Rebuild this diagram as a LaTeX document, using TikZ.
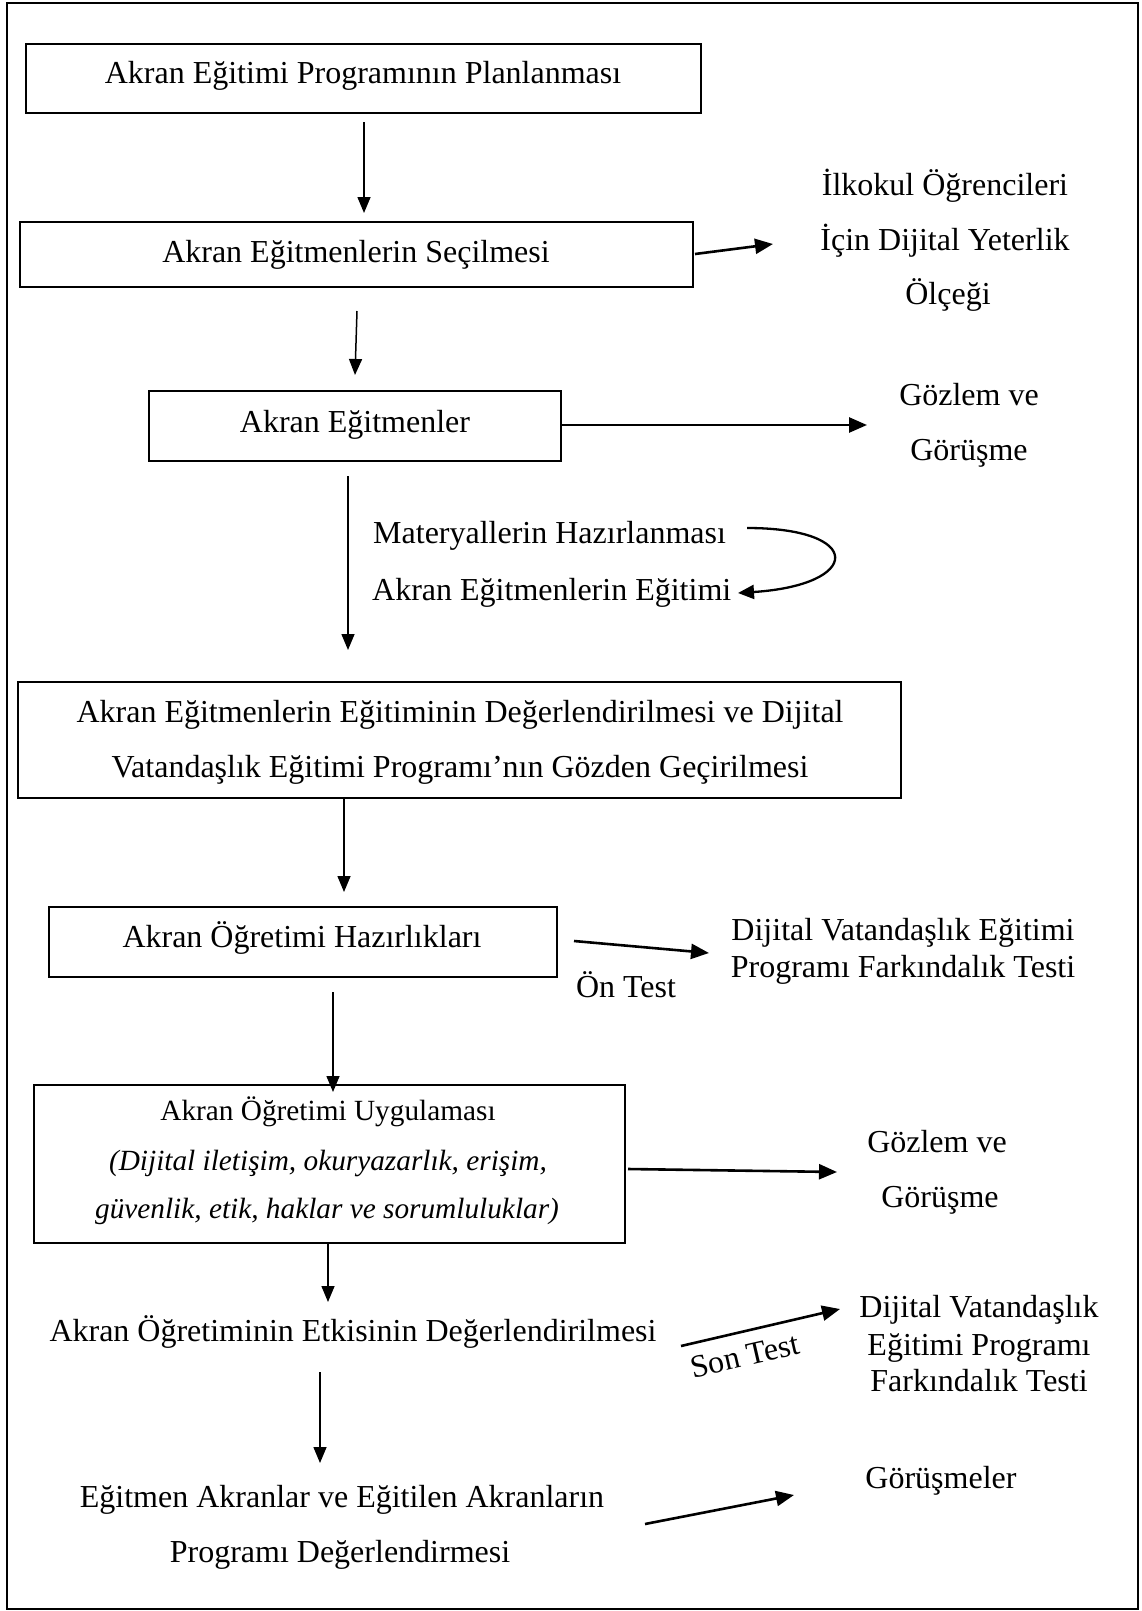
\documentclass[tikz,border=0pt]{standalone}
\usepackage{fontspec}
\setmainfont{Liberation Serif}
\usetikzlibrary{arrows.meta}

\begin{document}
\begin{tikzpicture}[x=1pt,y=-1pt,
  box/.style={draw, line width=1.8pt, inner sep=0pt},
  lbl/.style={anchor=base, inner sep=0pt, font=\fontsize{32}{38}\selectfont},
  lblw/.style={anchor=base west, inner sep=0pt, font=\fontsize{32}{38}\selectfont},
  small/.style={anchor=base, inner sep=0pt, font=\fontsize{29.3}{35}\selectfont},
  down/.style={-{Triangle[length=16pt,width=13pt]}, line width=1.5pt},
  side/.style={-{Triangle[length=18pt,width=15pt]}, line width=2.6pt},
]
\useasboundingbox (0,0) rectangle (1142,1611);
\fill[white] (0,0) rectangle (1142,1611);
\draw[line width=2.2pt] (7,3) rectangle (1138,1609);

% main column of boxes
\node[box, minimum width=675pt, minimum height=69pt]  (b1) at (363.5,78.5) {};
\node[box, minimum width=673pt, minimum height=65pt]  (b2) at (356.5,254.5) {};
\node[box, minimum width=412pt, minimum height=70pt]  (b3) at (355,426) {};
\node[box, minimum width=883pt, minimum height=116pt] (b4) at (459.5,740) {};
\node[box, minimum width=508pt, minimum height=70pt]  (b5) at (303,942) {};
\node[box, minimum width=591pt, minimum height=158pt] (b6) at (329.5,1164) {};

% texts in the boxes
\node[lbl] (t1) at (363,83) {Akran Eğitimi Programının Planlanması};
\node[lbl] (t2) at (356,262) {Akran Eğitmenlerin Seçilmesi};
\node[lbl] (t3) at (355,432) {Akran Eğitmenler};
\node[lbl] (t4a) at (460,722) {Akran Eğitmenlerin Eğitiminin Değerlendirilmesi ve Dijital};
\node[lbl] (t4b) at (460,777) {Vatandaşlık Eğitimi Programı’nın Gözden Geçirilmesi};
\node[lbl] (t5) at (302,947) {Akran Öğretimi Hazırlıkları};
\node[small] (t6a) at (328,1120) {Akran Öğretimi Uygulaması};
\node[small] (t6b) at (328,1170) {\itshape (Dijital iletişim, okuryazarlık, erişim,};
\node[small] (t6c) at (327,1218) {\itshape güvenlik, etik, haklar ve sorumluluklar)};

% free-standing steps
\node[lblw] (m1) at (373,543) {Materyallerin Hazırlanması};
\node[lblw] (m2) at (372,600) {Akran Eğitmenlerin Eğitimi};
\node[lbl] (s7) at (353,1341) {Akran Öğretiminin Etkisinin Değerlendirilmesi};
\node[lbl] (s8a) at (342,1507) {Eğitmen Akranlar ve Eğitilen Akranların};
\node[lbl] (s8b) at (340,1562) {Programı Değerlendirmesi};

% instruments on the right
\node[lbl] (r1a) at (945,195) {İlkokul Öğrencileri};
\node[lbl] (r1b) at (945,250) {İçin Dijital Yeterlik};
\node[lbl] (r1c) at (948,304) {Ölçeği};
\node[lbl] (r2a) at (969,405) {Gözlem ve};
\node[lbl] (r2b) at (969,460) {Görüşme};
\node[lbl] (r3a) at (903,940) {Dijital Vatandaşlık Eğitimi};
\node[lbl] (r3b) at (903,977) {Programı Farkındalık Testi};
\node[lbl] (r4a) at (937,1152) {Gözlem ve};
\node[lbl] (r4b) at (940,1207) {Görüşme};
\node[lbl] (r5a) at (979,1317) {Dijital Vatandaşlık};
\node[lbl] (r5b) at (979,1355) {Eğitimi Programı};
\node[lbl] (r5c) at (979,1391) {Farkındalık Testi};
\node[lbl] (r6) at (941,1488) {Görüşmeler};

% arrow labels
\node[lbl] (on) at (626,997) {Ön Test};
\node[lbl, rotate=13] (son) at (747,1366) {Son Test};

% connector end points
\coordinate (d1s) at (364,122);  \coordinate (d1e) at (364,213);
\coordinate (d2s) at (357,311);  \coordinate (d2e) at (355,375);
\coordinate (d3s) at (348,476);  \coordinate (d3e) at (348,650);
\coordinate (d4e) at (344,892);
\coordinate (d5s) at (333,992);  \coordinate (d5e) at (333,1092);
\coordinate (d6e) at (328,1302);
\coordinate (d7s) at (320,1372); \coordinate (d7e) at (320,1463);
\coordinate (h1s) at (695,254);  \coordinate (h1e) at (773,244);
\coordinate (h2e) at (867,425);
\coordinate (h3s) at (574,941);  \coordinate (h3e) at (709,953);
\coordinate (h4s) at (628,1169); \coordinate (h4e) at (837,1172);
\coordinate (h5s) at (681,1346); \coordinate (h5e) at (840,1309);
\coordinate (h6s) at (645,1524); \coordinate (h6e) at (794,1495);
\coordinate (cs) at (747,528);   \coordinate (ce) at (738,593);

% vertical flow
\draw[down] (d1s) -- (d1e);
\draw[down] (d2s) -- (d2e);
\draw[down] (d3s) -- (d3e);
\draw[down] (b4.south -| d4e) -- (d4e);
\draw[down] (d5s) -- (d5e);
\draw[down] (b6.south -| d6e) -- (d6e);
\draw[down] (d7s) -- (d7e);

% side arrows
\draw[side] (h1s) -- (h1e);
\draw[side] (b3.east |- h2e) -- (h2e);
\draw[side] (h3s) -- (h3e);
\draw[side] (h4s) -- (h4e);
\draw[side] (h5s) -- (h5e);
\draw[side] (h6s) -- (h6e);

% loop between the two training steps
\draw[-{Triangle[length=16pt,width=14pt]}, line width=2.3pt]
  (cs) .. controls (865,528) and (862,585) .. (ce);
\end{tikzpicture}
\end{document}
